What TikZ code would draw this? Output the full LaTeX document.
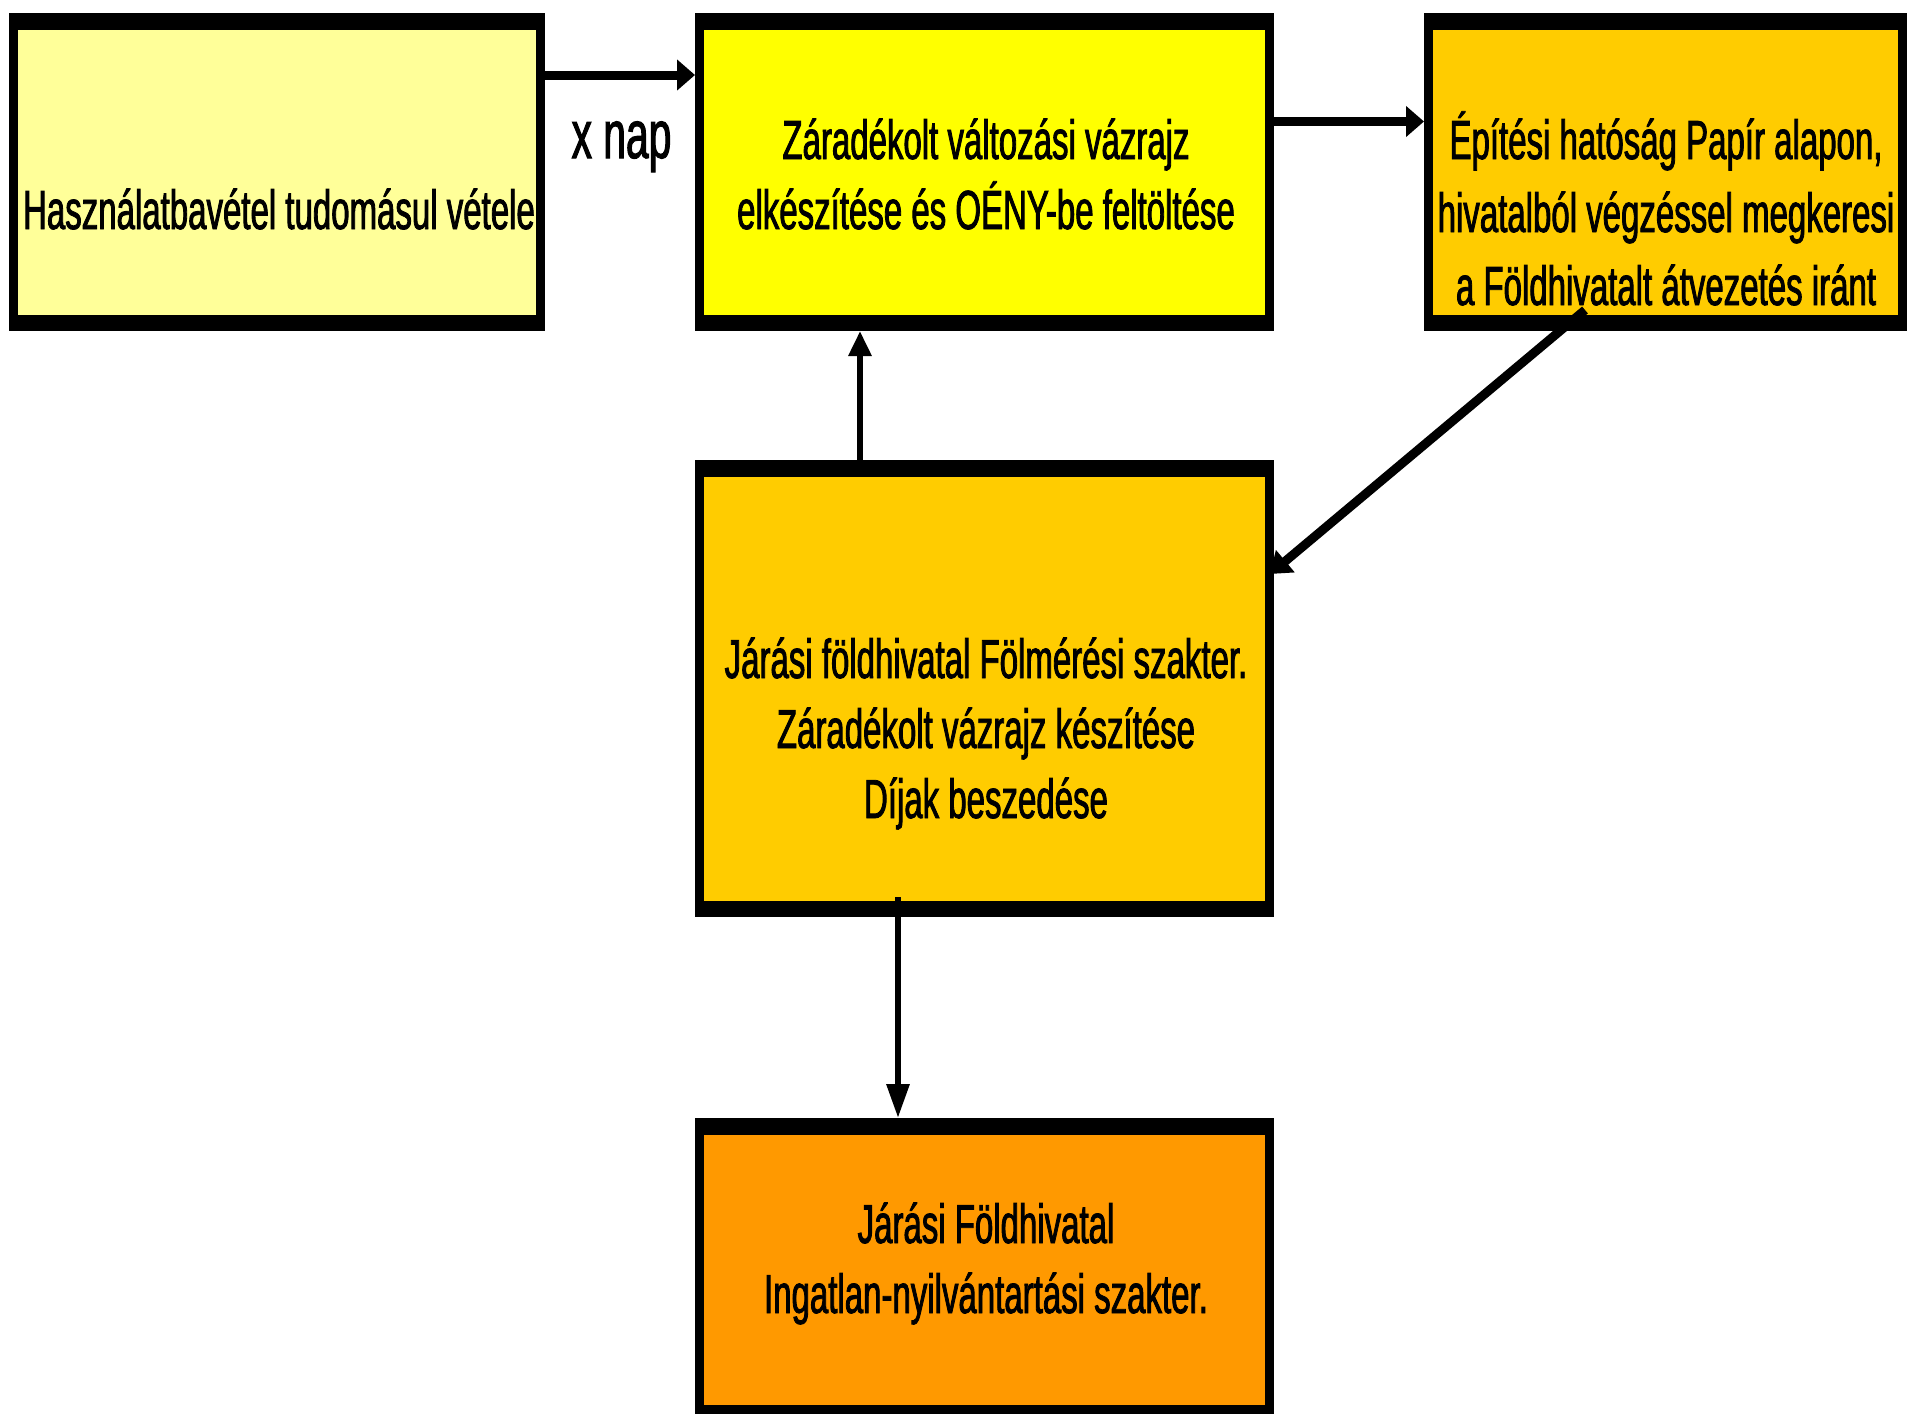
\documentclass[tikz,border=0pt]{standalone}
\usepackage{fontspec}
\setmainfont{Liberation Sans}
\newfontfamily\boxfont[FakeStretch=0.6,FakeBold=1.5]{Liberation Sans}
\usetikzlibrary{arrows.meta,calc}
\definecolor{c1}{HTML}{FFFF99}
\definecolor{c2}{HTML}{FFFF00}
\definecolor{c3}{HTML}{FFCC00}
\definecolor{c5}{HTML}{FF9900}
\tikzset{
  box/.style={rectangle, fill=black, inner sep=0pt, outer sep=0pt,
    path picture={\fill[#1] ([xshift=4.5pt,yshift=-8.25pt]path picture bounding box.north west)
      rectangle ([xshift=-4.5pt,yshift=8.25pt]path picture bounding box.south east);}},
  txt/.style={align=center, inner sep=0pt, anchor=base,
    font=\boxfont\fontsize{27.5}{#1}\selectfont},
  txt/.default=35,
  bigarr/.style={line width=4.5pt, -{Triangle[length=9pt,width=15pt]}},
  smallarr/.style={line width=3pt, -{Triangle[length=#1,width=11pt]}},
}
\begin{document}
\begin{tikzpicture}[x=0.5pt,y=-0.5pt]
\useasboundingbox[fill=white] (0,0) rectangle (1907,1414);
% boxes
\node[box=c1, minimum width=268pt, minimum height=159pt] (b1) at (277,172) {};
\node[box=c2, minimum width=289.5pt, minimum height=159pt] (b2) at (984.5,172) {};
\node[box=c3, minimum width=241.5pt, minimum height=159pt] (b3) at (1665.5,172) {};
\node[box=c3, minimum width=289.5pt, minimum height=228.5pt] (b4) at (984.5,688.5) {};
\node[box=c5, minimum width=289.5pt, minimum height=151.5pt] (b5) at (984.5,1269.5) {};
% texts (anchor base = baseline of the last line)
\node[txt] (t1) at (279,229) {Használatbavétel tudomásul vétele};
\node[txt] (t2) at (986,229) {Záradékolt változási vázrajz\\elkészítése és OÉNY-be feltöltése};
\node[txt=36.5] (t3) at (1666,305) {Építési hatóság Papír alapon,\\hivatalból végzéssel megkeresi\\a Földhivatalt átvezetés iránt};
\node[txt] (t4) at (986,818) {Járási földhivatal Fölmérési szakter.\\Záradékolt vázrajz készítése\\Díjak beszedése};
\node[txt] (t5) at (986,1313) {Járási Földhivatal\\Ingatlan-nyilvántartási szakter.};
\node[anchor=base, inner sep=0pt, font=\boxfont\fontsize{34}{40}\selectfont] (xnap) at (621.5,158) {x nap};
% connectors
\draw[bigarr] ([yshift=-31pt]b1.north east) -- ([yshift=-31pt]b2.north west);
\draw[bigarr] ([yshift=-54.25pt]b2.north east) -- ([yshift=-54.25pt]b3.north west);
\draw[line width=4.5pt, -{Triangle[length=10pt,width=14pt]}] ([xshift=-40.25pt,yshift=10.5pt]b3.south) -- ([xshift=-2pt,yshift=-57pt]b4.north east);
\draw[smallarr=12.5pt] ([xshift=82.5pt]b4.north west) -- ([xshift=82.5pt]b2.south west);
\draw[smallarr=17pt] ([xshift=101.5pt,yshift=10pt]b4.south west) -- ([xshift=101.5pt]b5.north west);
\end{tikzpicture}
\end{document}
